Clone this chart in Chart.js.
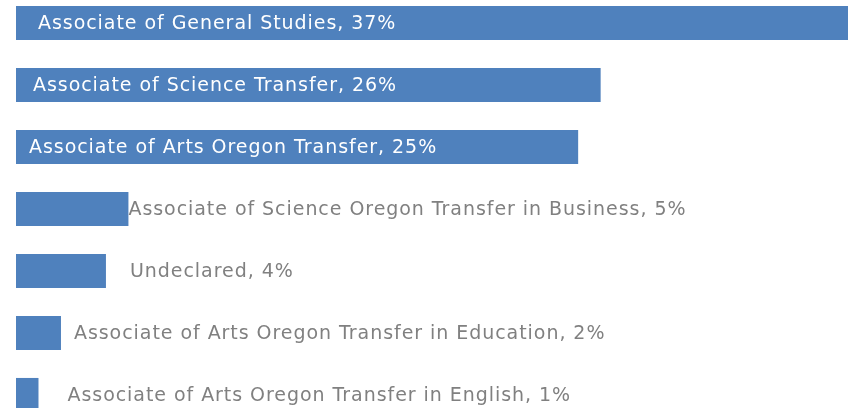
<!DOCTYPE html>
<html>
<head>
<meta charset="utf-8">
<script src="https://cdn.jsdelivr.net/npm/chart.js@4/dist/chart.umd.min.js"></script>
<style>
    html, body { margin: 0; padding: 0; background: #ffffff; overflow: hidden; }
    #wrap { position: absolute; left: 0; top: -8px; width: 850px; height: 434px; }
</style>
</head>
<body>
<div id="wrap"><canvas id="chart"></canvas></div>
<script>
const categories = [
    'Associate of General Studies',
    'Associate of Science Transfer',
    'Associate of Arts Oregon Transfer',
    'Associate of Science Oregon Transfer in Business',
    'Undeclared',
    'Associate of Arts Oregon Transfer in Education',
    'Associate of Arts Oregon Transfer in English'
];
const percents = [37, 26, 25, 5, 4, 2, 1];

// where each label sits: inside the bar (white) or after it (grey), and its nudge in px
const labelInside = [true, true, true, false, false, false, false];
const labelShift = [22, 17, 13, 0, 24, 13, 29];

const barLabels = {
    id: 'barLabels',
    afterDatasetsDraw(chart) {
        const ctx = chart.ctx;
        const meta = chart.getDatasetMeta(0);
        ctx.save();
        ctx.font = '19px "DejaVu Sans"';
        ctx.letterSpacing = '0.95px';
        ctx.textBaseline = 'middle';
        ctx.textAlign = 'left';
        meta.data.forEach((bar, i) => {
            const text = categories[i] + ', ' + percents[i] + '%';
            const x = labelInside[i] ? bar.base + labelShift[i] : bar.x + labelShift[i];
            ctx.fillStyle = labelInside[i] ? '#ffffff' : '#808080';
            ctx.fillText(text, x, bar.y + 1);
        });
        ctx.restore();
    }
};

const ctx = document.getElementById('chart').getContext('2d');
new Chart(ctx, {
    type: 'bar',
    data: {
        labels: categories,
        datasets: [{
            data: percents,
            backgroundColor: '#4f81bd',
            borderWidth: 0,
            categoryPercentage: 1,
            barPercentage: 0.55
        }]
    },
    options: {
        indexAxis: 'y',
        responsive: true,
        maintainAspectRatio: false,
        animation: false,
        layout: {
            padding: { left: 16, right: 2, top: 0, bottom: 0 }
        },
        scales: {
            x: { display: false, min: 0, max: 37 },
            y: { display: false }
        },
        plugins: {
            legend: { display: false },
            tooltip: { enabled: false }
        }
    },
    plugins: [barLabels]
});
</script>
</body>
</html>
